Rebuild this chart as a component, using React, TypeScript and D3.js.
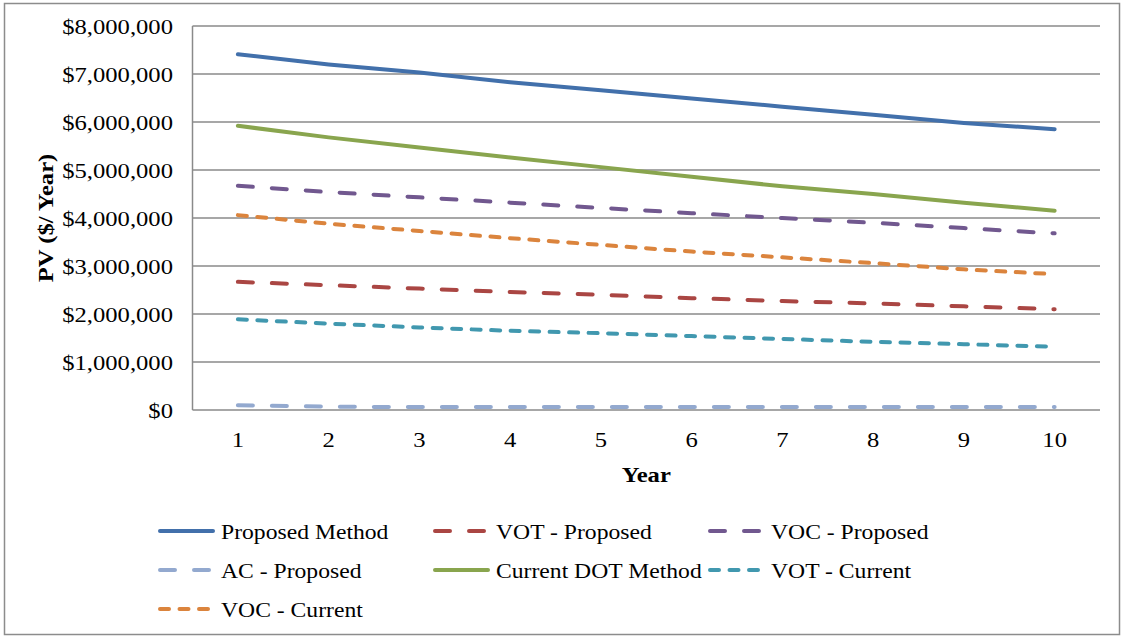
import React from "react";
import * as d3 from "d3";

const years = ["1", "2", "3", "4", "5", "6", "7", "8", "9", "10"];
const yTicks = [0, 1000000, 2000000, 3000000, 4000000, 5000000, 6000000, 7000000, 8000000];

const proposedMethod = [7.41, 7.2, 7.03, 6.83, 6.66, 6.49, 6.32, 6.15, 5.98, 5.85];
const votProposed = [2.67, 2.6, 2.53, 2.46, 2.4, 2.33, 2.27, 2.22, 2.16, 2.1];
const vocProposed = [4.67, 4.54, 4.43, 4.32, 4.21, 4.1, 4.0, 3.9, 3.79, 3.68];
const acProposed = [0.1, 0.07, 0.06, 0.06, 0.06, 0.06, 0.06, 0.06, 0.06, 0.06];
const currentDOT = [5.92, 5.68, 5.47, 5.26, 5.06, 4.86, 4.66, 4.5, 4.32, 4.15];
const votCurrent = [1.89, 1.8, 1.72, 1.65, 1.6, 1.54, 1.48, 1.42, 1.37, 1.32];
const vocCurrent = [4.06, 3.88, 3.73, 3.58, 3.44, 3.3, 3.18, 3.06, 2.93, 2.83];

const LONG = "15,19";
const SHORT = "9,10.5";

const series = [
  { name: "Proposed Method", values: proposedMethod, color: "#4270AB", dash: null },
  { name: "VOT - Proposed", values: votProposed, color: "#AA4643", dash: LONG },
  { name: "VOC - Proposed", values: vocProposed, color: "#71588F", dash: LONG },
  { name: "AC - Proposed", values: acProposed, color: "#93A9CF", dash: LONG },
  { name: "Current DOT Method", values: currentDOT, color: "#89A54E", dash: null },
  { name: "VOT - Current", values: votCurrent, color: "#4198AF", dash: SHORT },
  { name: "VOC - Current", values: vocCurrent, color: "#DB843D", dash: SHORT },
];

const FONT = "'Liberation Serif', 'Times New Roman', serif";
const FS = 22;

function T(props: { x: number; y: number; anchor?: string; bold?: boolean; rotate?: number; sx?: number; children: any }) {
  const { x, y, anchor, bold, rotate, sx, children } = props;
  return (
    <text
      transform={`translate(${x},${y})${rotate ? ` rotate(${rotate})` : ""} scale(${sx ?? 1.12},1)`}
      textAnchor={anchor || "start"}
      fontSize={FS}
      fontWeight={bold ? "bold" : "normal"}
      fill="#000"
    >
      {children}
    </text>
  );
}

export default function App() {
  const W = 1123, H = 638;
  const left = 192.5, right = 1100, top = 26, bottom = 410;
  const x = d3.scalePoint<string>().domain(years).range([left, right]).padding(0.5);
  const y = d3.scaleLinear().domain([0, 8000000]).range([bottom, top]);
  const line = d3
    .line<number>()
    .x((_, i) => x(years[i]) as number)
    .y((d) => y(d * 1000000));
  const fmt = (v: number) => "$" + d3.format(",")(v);

  const legendCols = [158, 433, 708];
  const legendRows = [531, 570, 609];

  return (
    <svg
      width={W}
      height={H}
      style={{ position: "absolute", left: 0, top: 0, background: "#fff" }}
      fontFamily={FONT}
    >
      <rect x={4.5} y={3.5} width={1115} height={631} fill="#fff" stroke="#8c8c8c" strokeWidth={1.5} />
      {yTicks.map((t) => (
        <g key={t}>
          <line x1={left} x2={right} y1={y(t)} y2={y(t)} stroke="#8a8a8a" strokeWidth={1.5} />
          <T x={173} y={y(t) + 7.5} anchor="end">
            {fmt(t)}
          </T>
        </g>
      ))}
      <line x1={left} x2={left} y1={top} y2={bottom} stroke="#8a8a8a" strokeWidth={1.5} />
      {years.map((yr) => (
        <T key={yr} x={x(yr) as number} y={447} anchor="middle">
          {yr}
        </T>
      ))}
      <T x={(left + right) / 2} y={482} anchor="middle" bold>
        Year
      </T>
      <T x={53} y={(top + bottom) / 2} anchor="middle" bold rotate={-90}>
        PV ($/ Year)
      </T>
      {series.map((s) => (
        <path
          key={s.name}
          d={line(s.values) as string}
          fill="none"
          stroke={s.color}
          strokeWidth={4}
          strokeLinecap="round"
          strokeLinejoin="round"
          strokeDasharray={s.dash ?? undefined}
        />
      ))}
      {series.map((s, i) => {
        const cx = legendCols[i % 3];
        const cy = legendRows[Math.floor(i / 3)];
        return (
          <g key={"lg" + s.name}>
            <line
              x1={cx + 2}
              x2={cx + 55}
              y1={cy}
              y2={cy}
              stroke={s.color}
              strokeWidth={4}
              strokeLinecap="round"
              strokeDasharray={s.dash ?? undefined}
            />
            <T x={cx + 63} y={cy + 7.5} sx={1.075}>
              {s.name}
            </T>
          </g>
        );
      })}
    </svg>
  );
}
